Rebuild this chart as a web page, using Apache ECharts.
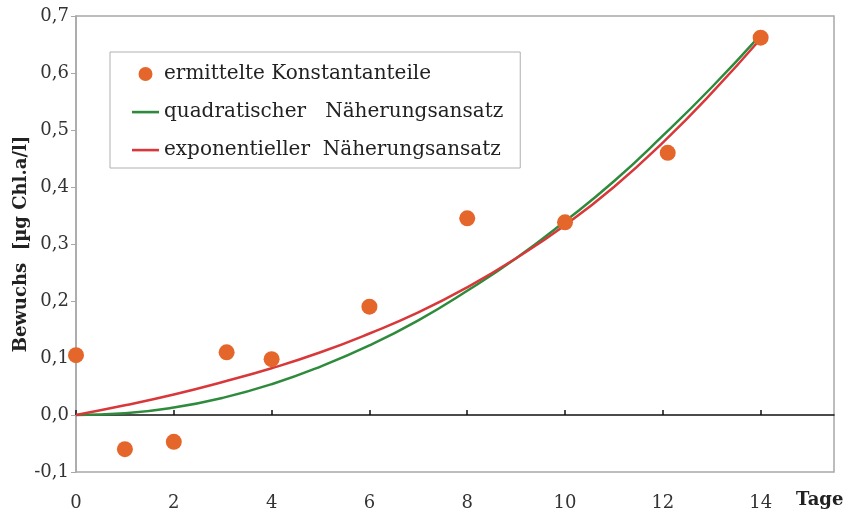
<!DOCTYPE html>
<html><head><meta charset="utf-8">
<script src="https://cdn.jsdelivr.net/npm/echarts@6/dist/echarts.min.js"></script>
<style>html,body{margin:0;padding:0;background:#fff}#c{width:844px;height:514px}</style>
</head><body><div id="c"></div>
<script>
// Data
const measuredX = [0, 1, 2, 3.08, 4, 6, 8, 10, 12.1, 14];
const measuredY = [0.105, -0.06, -0.047, 0.11, 0.098, 0.19, 0.345, 0.338, 0.46, 0.662];
const fitX = [0, 1, 2, 3, 4, 5, 6, 7, 8, 9, 10, 11, 12, 13, 14];
const quadY = [0, 0.003, 0.013, 0.03, 0.054, 0.085, 0.122, 0.166, 0.218, 0.275, 0.34, 0.41, 0.49, 0.575, 0.667];
const expY  = [0, 0.017, 0.036, 0.058, 0.082, 0.11, 0.143, 0.18, 0.224, 0.275, 0.333, 0.4, 0.478, 0.565, 0.66];
const xTicks = [0, 2, 4, 6, 8, 10, 12, 14];
const seriesNames = ['ermittelte Konstantanteile', 'quadratischer   Näherungsansatz', 'exponentieller  Näherungsansatz'];
const yAxisTitle = 'Bewuchs  [µg Chl.a/l]';
const xAxisTitle = 'Tage';

const zip = (xs, ys) => xs.map((x, i) => [x, ys[i]]);
const serif = 'DejaVu Serif';
const lineIcon = 'path://M0,0 M27,14 M0,5.8 L27,5.8 L27,8.4 L0,8.4 Z';
const chart = echarts.init(document.getElementById('c'), null, {renderer: 'canvas'});
chart.setOption({
  animation: false,
  backgroundColor: '#fff',
  grid: {left: 76, right: 10, top: 16, bottom: 42, show: true, borderColor: '#a8a8a8', borderWidth: 1.5,
         containLabel: false, outerBoundsMode: 'none'},
  legend: {
    orient: 'vertical', left: 110, top: 52,
    padding: [12, 17, 8, 22],
    borderColor: '#b0b0b0', borderWidth: 1, backgroundColor: '#fff',
    itemWidth: 27, itemHeight: 14, itemGap: 18,
    textStyle: {fontFamily: serif, fontSize: 20, color: '#222'},
    data: [
      {name: seriesNames[0], icon: 'circle'},
      {name: seriesNames[1], icon: lineIcon},
      {name: seriesNames[2], icon: lineIcon}
    ]
  },
  xAxis: [{
    type: 'value', min: 0, max: 15.5, interval: 2,
    axisLine: {show: false, onZero: false},
    axisTick: {show: false},
    splitLine: {show: false},
    axisLabel: {fontFamily: serif, fontSize: 18, color: '#333', margin: 22, customValues: xTicks}
  }, {
    type: 'value', min: 0, max: 15.5, interval: 2,
    axisLine: {show: true, onZero: true, lineStyle: {color: '#111', width: 1.5}},
    axisTick: {show: true, length: 5, lineStyle: {color: '#111', width: 1.5}, customValues: xTicks},
    axisLabel: {show: false},
    splitLine: {show: false}
  }],
  yAxis: {
    type: 'value', min: -0.1, max: 0.7, interval: 0.1,
    name: yAxisTitle, nameLocation: 'middle', nameGap: 46, nameMoveOverlap: false,
    nameTextStyle: {fontFamily: serif, fontSize: 18, fontWeight: 'bold', color: '#222'},
    axisLine: {show: true, lineStyle: {color: '#a8a8a8', width: 1.5}},
    axisTick: {show: true, length: 5, lineStyle: {color: '#a8a8a8'}},
    splitLine: {show: false},
    axisLabel: {fontFamily: serif, fontSize: 18, color: '#333', margin: 7,
      formatter: v => v.toFixed(1).replace('.', ',')}
  },
  graphic: [{type: 'text', left: 796, top: 491,
    style: {text: xAxisTitle, font: 'bold 18px "DejaVu Serif"', fill: '#222'}}],
  series: [
    {name: seriesNames[1], type: 'line', data: zip(fitX, quadY), symbol: 'none', smooth: true,
     lineStyle: {color: '#2e8b3c', width: 2.5}, itemStyle: {color: '#2e8b3c'}, z: 2},
    {name: seriesNames[2], type: 'line', data: zip(fitX, expY), symbol: 'none', smooth: true,
     lineStyle: {color: '#d8383a', width: 2.5}, itemStyle: {color: '#d8383a'}, z: 3},
    {name: seriesNames[0], type: 'scatter', data: zip(measuredX, measuredY), symbolSize: 16,
     itemStyle: {color: '#e5662a', opacity: 1}, z: 5}
  ]
});
</script></body></html>
